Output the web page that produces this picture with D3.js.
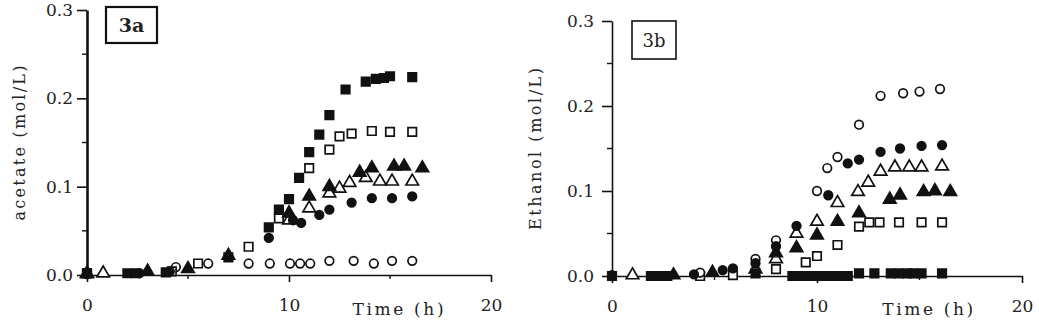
<!DOCTYPE html>
<html>
<head>
<meta charset="utf-8">
<script src="https://cdn.jsdelivr.net/npm/d3@7"></script>
<style>
  body { margin: 0; background: #fff; }
  svg text { font-family: "DejaVu Serif", "Liberation Serif", serif; fill: #222; }
</style>
</head>
<body>
<svg id="chart" width="1039" height="332"></svg>
<script>
// tick values shared by both panels
const yTicks = [0, 0.1, 0.2, 0.3];
const yMinor = [0.05, 0.15, 0.25];
const xTicks = [0, 10, 20];
const xMinor = [5, 15];

// panel 3a: acetate, [time h, mol/L]
const aFilledSquare = [[0,0.002],[2,0.002],[2.4,0.002],[3.9,0.003],[7,0.02],[9,0.054],[9.5,0.074],[10,0.086],[10.5,0.11],[11,0.139],[11.5,0.159],[12,0.181],[12.8,0.21],[13.8,0.219],[14.3,0.222],[14.7,0.223],[15,0.225],[16.1,0.224]];
const aOpenSquare = [[0,0.002],[4.2,0.004],[5.5,0.013],[8,0.032],[9.5,0.064],[11,0.121],[12,0.142],[12.5,0.157],[13.1,0.16],[14.1,0.163],[15,0.162],[16.1,0.162]];
const aFilledTriangle = [[0,0.002],[3,0.004],[5,0.007],[7,0.022],[10,0.07],[11,0.089],[12,0.1],[13.5,0.116],[14.1,0.121],[15.2,0.123],[15.7,0.123],[16.6,0.121]];
const aOpenTriangle = [[0,0.001],[0.8,0.002],[10,0.062],[11,0.0755],[12,0.0925],[12.5,0.098],[13,0.1045],[13.8,0.11],[14.5,0.106],[15.1,0.106],[16.1,0.106]];
const aFilledCircle = [[0,0.001],[2.6,0.002],[4.1,0.004],[9,0.042],[10.2,0.062],[10.6,0.059],[11.5,0.068],[12,0.074],[13.1,0.082],[14.1,0.087],[15.1,0.087],[16.1,0.089]];
const aOpenCircle = [[4.4,0.009],[6,0.013],[8,0.013],[9.05,0.013],[10.05,0.013],[10.55,0.013],[11.05,0.013],[12,0.016],[13.2,0.016],[14.2,0.013],[15.1,0.016],[16.1,0.016]];

// panel 3b: ethanol, [time h, mol/L]
const bOpenCircle = [[0,0],[4.3,0.004],[7,0.02],[8,0.042],[10,0.1],[10.5,0.127],[11,0.14],[12.05,0.178],[13.1,0.212],[14.2,0.215],[15,0.217],[16,0.22]];
const bFilledCircle = [[0,0.001],[4,0.002],[5.4,0.007],[5.9,0.009],[7,0.015],[8,0.035],[9,0.059],[10.55,0.095],[11.5,0.1325],[12.05,0.137],[13.1,0.146],[14.05,0.15],[15.1,0.153],[16.1,0.154]];
const bOpenTriangle = [[1,0.001],[7,0.008],[8,0.02],[9,0.05],[10,0.064],[11,0.086],[12,0.099],[12.5,0.11],[13.1,0.123],[13.8,0.128],[14.5,0.128],[15.1,0.128],[16.1,0.129]];
const bFilledTriangle = [[3,0.001],[4.9,0.004],[8,0.027],[9,0.033],[10,0.048],[11,0.064],[12.05,0.074],[13.55,0.09],[14.05,0.095],[15.2,0.099],[15.75,0.1],[16.5,0.099]];
const bOpenSquare = [[4.3,0],[5.9,0.001],[8,0.008],[9.45,0.016],[10,0.0235],[11,0.0365],[12.05,0.058],[12.55,0.063],[13.05,0.063],[14,0.063],[15.1,0.063],[16.1,0.063]];
const bFilledSquare = [[0,0],[1.9,0],[2.3,0],[2.7,0],[7,0.003],[8.8,0],[9.1,0],[9.4,0],[9.7,0],[10,0],[10.3,0],[10.6,0],[10.9,0],[11.2,0],[11.5,0],[12.05,0.003],[12.8,0.003],[13.6,0.003],[14,0.003],[14.4,0.003],[14.7,0.003],[15.1,0.003],[16.1,0.003]];

const svg = d3.select('#chart');

const shapes = {
    square: d3.symbol().type(d3.symbolSquare).size(72),
    circle: d3.symbol().type(d3.symbolCircle).size(58),
    triangle: d3.symbol().type(d3.symbolTriangle).size(68)
};

function drawPanel(p){
    const x = d3.scaleLinear().domain([0, 20]).range(p.xRange);
    const y = d3.scaleLinear().domain([0, 0.3]).range(p.yRange);
    const g = svg.append('g');

    //y axis with major ticks, minor ticks drawn by hand
    const yAx = g.append('g')
        .attr('transform', `translate(${p.xRange[0]},0)`)
        .call(d3.axisLeft(y).tickValues(yTicks).tickFormat(d3.format('.1f'))
            .tickSize(10).tickSizeOuter(0).tickPadding(p.yPad))
        .attr('font-family', null).attr('font-size', 17);
    yAx.select('.domain').attr('stroke-width', p.yStroke).attr('stroke', '#111');
    yAx.selectAll('.tick line').attr('stroke-width', 1.6).attr('stroke', '#111');
    g.selectAll('.yminor').data(yMinor).enter().append('line')
        .attr('x1', p.xRange[0] - 5).attr('x2', p.xRange[0])
        .attr('y1', d => y(d)).attr('y2', d => y(d))
        .attr('stroke', '#111').attr('stroke-width', 1.4);

    const xAx = g.append('g')
        .attr('transform', `translate(0,${p.yRange[0]})`)
        .call(d3.axisBottom(x).tickValues(xTicks).tickFormat(d3.format('d'))
            .tickSize(7).tickSizeOuter(0).tickPadding(17))
        .attr('font-family', null).attr('font-size', 17);
    xAx.select('.domain').attr('stroke-width', 1.6).attr('stroke', '#111');
    xAx.selectAll('.tick line').attr('stroke-width', 1.6).attr('stroke', '#111');
    g.selectAll('.xminor').data(xMinor).enter().append('line')
        .attr('x1', d => x(d)).attr('x2', d => x(d))
        .attr('y1', p.yRange[0]).attr('y2', p.yRange[0] + 4)
        .attr('stroke', '#111').attr('stroke-width', 1.4);

    g.append('text')
        .attr('x', x(15.4)).attr('y', 315)
        .attr('text-anchor', 'middle').attr('font-size', 17)
        .attr('textLength', 91).attr('lengthAdjust', 'spacing')
        .text('Time (h)');

    g.append('text')
        .attr('transform', `translate(${p.labelX},${p.labelY}) rotate(-90)`)
        .attr('text-anchor', 'middle').attr('font-size', 16)
        .attr('textLength', p.labelLen).attr('lengthAdjust', 'spacing')
        .text(p.label);

    //panel tag box
    g.append('rect')
        .attr('x', p.box[0]).attr('y', p.box[1])
        .attr('width', p.box[2]).attr('height', p.box[3])
        .attr('fill', 'none').attr('stroke', '#111').attr('stroke-width', p.boxStroke);
    g.append('text')
        .attr('x', p.box[0] + p.box[2] / 2).attr('y', p.box[1] + p.box[3] / 2 + 7)
        .attr('text-anchor', 'middle').attr('font-size', p.tagSize)
        .attr('font-weight', p.tagWeight)
        .text(p.tag);

    for (const s of p.series){
        g.selectAll(null).data(s.data).enter().append('path')
            .attr('transform', d => `translate(${x(d[0])},${y(d[1])})`)
            .attr('d', shapes[s.shape]())
            .attr('fill', s.filled ? '#111' : '#fff')
            .attr('stroke', '#111')
            .attr('stroke-width', 1.7);
    }
}

drawPanel({
    xRange: [87, 491], yRange: [275, 10], yPad: 4, yStroke: 2.6,
    label: 'acetate (mol/L)', labelX: 25, labelY: 143, labelLen: 155,
    box: [106, 7, 51, 36], boxStroke: 2.2, tag: '3a', tagSize: 19, tagWeight: 'bold',
    series: [
        {data: aOpenCircle, shape: 'circle', filled: false},
        {data: aOpenSquare, shape: 'square', filled: false},
        {data: aOpenTriangle, shape: 'triangle', filled: false},
        {data: aFilledCircle, shape: 'circle', filled: true},
        {data: aFilledTriangle, shape: 'triangle', filled: true},
        {data: aFilledSquare, shape: 'square', filled: true}
    ]
});

drawPanel({
    xRange: [612, 1022], yRange: [276, 21], yPad: 8, yStroke: 1.6,
    label: 'Ethanol (mol/L)', labelX: 541, labelY: 149, labelLen: 162,
    box: [632, 21, 44, 38], boxStroke: 1.6, tag: '3b', tagSize: 18, tagWeight: 'normal',
    series: [
        {data: bOpenSquare, shape: 'square', filled: false},
        {data: bOpenTriangle, shape: 'triangle', filled: false},
        {data: bOpenCircle, shape: 'circle', filled: false},
        {data: bFilledTriangle, shape: 'triangle', filled: true},
        {data: bFilledCircle, shape: 'circle', filled: true},
        {data: bFilledSquare, shape: 'square', filled: true}
    ]
});
</script>
</body>
</html>
